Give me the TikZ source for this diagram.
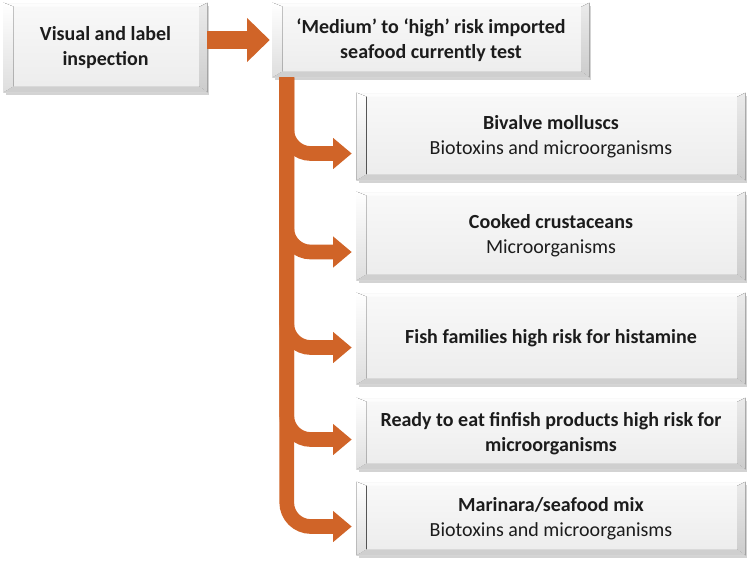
\documentclass[tikz,border=0pt]{standalone}
\usepackage{fontspec}
\setmainfont{Carlito}
\usepackage{tikz}
\usetikzlibrary{positioning,arrows.meta,shadows}
\definecolor{arrowColor}{RGB}{208,100,40}
\definecolor{textColor}{RGB}{28,28,28}
\tikzstyle{diagram} = [x = .75pt, y = -.75pt]
\tikzstyle{boxStyle} = [draw=gray!30, line width=.4pt, top color=gray!5, bottom color=gray!15, text=textColor, align=center, inner sep=0pt, font=\fontsize{15}{19}\selectfont, drop shadow={shadow xshift=1.5pt, shadow yshift=-2pt, fill=gray, opacity=.35}]
\tikzstyle{bevelLight} = [fill=white, opacity=.85]
\tikzstyle{bevelSide} = [top color=white, bottom color=gray!26]
\tikzstyle{bevelDark} = [top color=gray!16, bottom color=gray!40]
\tikzstyle{bevelBottom} = [fill=gray!38]
\tikzstyle{bigArrow} = [draw=arrowColor, line width=13.5pt, -{Triangle[length=17pt, width=32pt]}]
\tikzstyle{branchArrow} = [draw=arrowColor, line width=11pt, rounded corners=18pt, -{Triangle[length=14pt, width=22.5pt]}]
\newcommand{\bevL}{10}
\newcommand{\bevR}{8}
\newcommand{\bevT}{4}
\newcommand{\bevB}{6}
% name, centre x, centre y, width, height, text
\newcommand{\bevelBox}[6]{
  \node [boxStyle, minimum width = #4*.75pt, minimum height = #5*.75pt] (#1) at (#2,#3) {#6};
  \fill [bevelLight] (#1.north west) -- (#1.north east) -- ([shift={(-\bevR,\bevT)}]#1.north east) -- ([shift={(\bevL,\bevT)}]#1.north west) -- cycle;
  \fill [bevelSide] (#1.north west) -- ([shift={(\bevL,\bevT)}]#1.north west) -- ([shift={(\bevL,-\bevB)}]#1.south west) -- (#1.south west) -- cycle;
  \fill [bevelDark] (#1.north east) -- (#1.south east) -- ([shift={(-\bevR,-\bevB)}]#1.south east) -- ([shift={(-\bevR,\bevT)}]#1.north east) -- cycle;
  \fill [bevelBottom] (#1.south west) -- (#1.south east) -- ([shift={(-\bevR,-\bevB)}]#1.south east) -- ([shift={(\bevL,-\bevB)}]#1.south west) -- cycle;
}

\begin{document}
\begin{tikzpicture}[diagram]
  \useasboundingbox (0,0) rectangle (748,562);

  \bevelBox{visualBox}{105.5}{47.5}{203}{89}{\bfseries Visual and label\\\bfseries inspection}
  \bevelBox{mediumBox}{431}{40}{316}{74}{\bfseries ‘Medium’ to ‘high’ risk imported\\\bfseries seafood currently test}
  \bevelBox{bivalveBox}{551}{136.5}{388}{87}{\textbf{Bivalve molluscs}\\Biotoxins and microorganisms}
  \bevelBox{crustaceanBox}{551}{236}{388}{88}{\textbf{Cooked crustaceans}\\Microorganisms}
  \bevelBox{histamineBox}{551}{338.5}{388}{91}{\textbf{Fish families high risk for histamine}}
  \bevelBox{finfishBox}{551}{433.5}{388}{71}{\textbf{Ready to eat finfish products high risk for}\\\textbf{microorganisms}}
  \bevelBox{marinaraBox}{551}{518.5}{388}{73}{\textbf{Marinara/seafood mix}\\Biotoxins and microorganisms}

  \draw [bigArrow, shorten >= 2.25pt] (visualBox.east |- mediumBox.west) -- (mediumBox.west);

  \coordinate (trunkTop) at ([xshift = 10.5pt]mediumBox.south west);
  \foreach \boxName/\drop in {bivalveBox/17, crustaceanBox/16, histamineBox/9, finfishBox/6, marinaraBox/8} {
    \draw [branchArrow, shorten >= 3.75pt] (trunkTop) |- ([yshift = -\drop*.75pt]\boxName.west);
  }
\end{tikzpicture}
\end{document}
